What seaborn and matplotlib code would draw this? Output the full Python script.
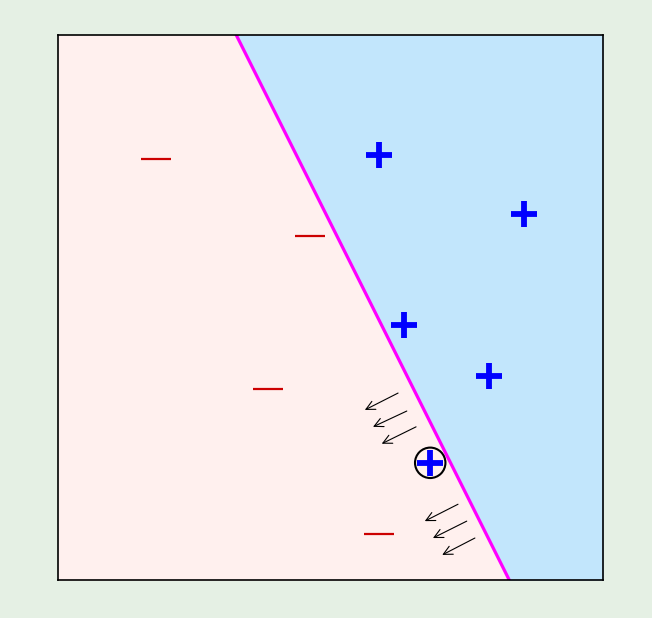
import matplotlib
matplotlib.use("Agg")
import matplotlib.pyplot as plt
import seaborn as sns
import pandas as pd

# === Data (axes span 0..10 in both directions) ===
plus_x = [5.89, 8.55, 6.35, 7.91, 6.83]
plus_y = [7.80, 6.72, 4.68, 3.74, 2.15]
minus_x = [1.80, 4.62, 3.85, 5.89]
minus_y = [7.72, 6.31, 3.50, 0.84]
circled_x = [6.83]
circled_y = [2.15]
boundary_x = [3.27, 8.28]
boundary_y = [10.0, 0.0]
arrow_start_x = [6.24, 6.40, 6.57, 7.34, 7.50, 7.65]
arrow_start_y = [3.43, 3.10, 2.81, 1.39, 1.08, 0.77]
arrow_end_x = [5.63, 5.78, 5.94, 6.73, 6.88, 7.05]
arrow_end_y = [3.12, 2.81, 2.50, 1.08, 0.77, 0.46]

plus_df = pd.DataFrame({"x": plus_x, "y": plus_y})
minus_df = pd.DataFrame({"x": minus_x, "y": minus_y})

sns.set_style("white")
fig = plt.figure(figsize=(6.52, 6.18), dpi=100, facecolor="#e5f0e4")
ax = fig.add_axes([0.089, 0.0615, 0.8358, 0.8819])
ax.set_xlim(0, 10)
ax.set_ylim(0, 10)

# === Regions on each side of the boundary ===
ax.fill_betweenx(boundary_y, 0, boundary_x, color="#fff0ee", zorder=0)
ax.fill_betweenx(boundary_y, boundary_x, 10, color="#c2e6fc", zorder=0)
ax.plot(boundary_x, boundary_y, color="#ff00ff", lw=2.3, zorder=2)

# === Points ===
sns.scatterplot(data=plus_df, x="x", y="y", marker="+", s=330, color="#0000ff",
                linewidth=4.2, ax=ax, zorder=4)
sns.scatterplot(data=minus_df, x="x", y="y", marker="_", s=470, color="#cc0000",
                linewidth=1.6, ax=ax, zorder=4)
ax.scatter(circled_x, circled_y, s=480, facecolors="none", edgecolors="black",
           linewidths=1.5, zorder=5)

# === Arrows ===
for sx, sy, ex, ey in zip(arrow_start_x, arrow_start_y, arrow_end_x, arrow_end_y):
    ax.annotate("", xy=(ex, ey), xytext=(sx, sy),
                arrowprops=dict(arrowstyle="->", color="black", lw=0.8,
                                mutation_scale=16, shrinkA=0, shrinkB=0), zorder=3)

ax.set_xticks([])
ax.set_yticks([])
ax.set_xlabel("")
ax.set_ylabel("")
for sp in ax.spines.values():
    sp.set_color("black")
    sp.set_linewidth(1.2)
    sp.set_visible(True)

fig.savefig("out.png", dpi=100, facecolor=fig.get_facecolor())
